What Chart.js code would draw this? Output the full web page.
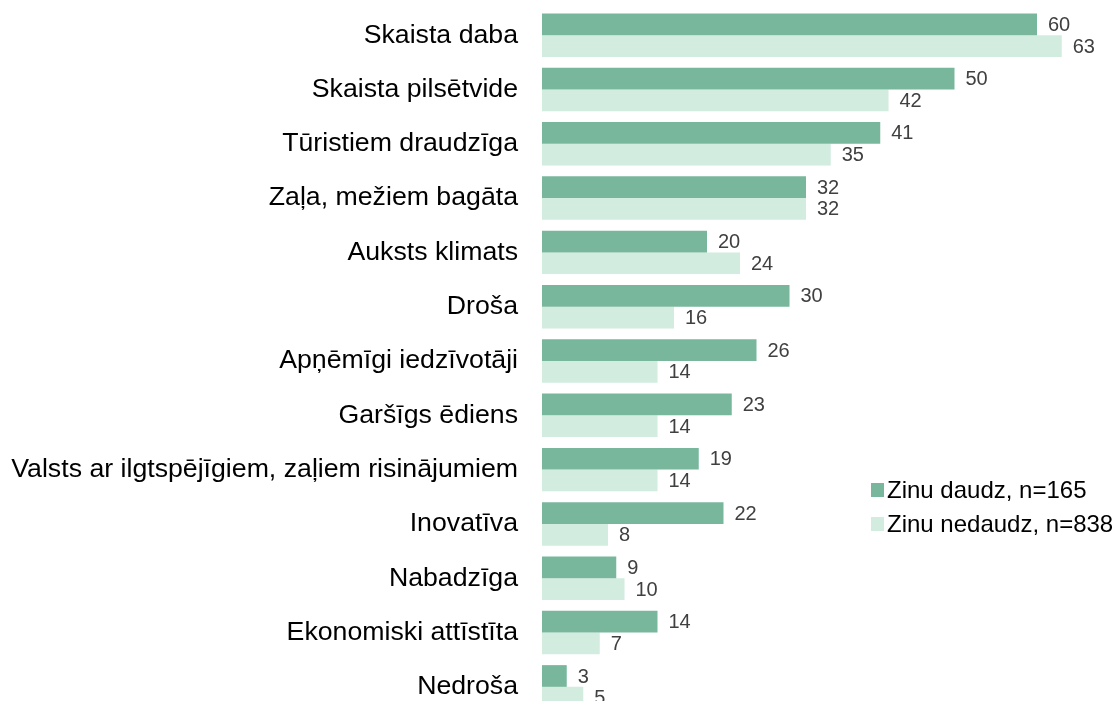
<!DOCTYPE html>
<html>
<head>
<meta charset="utf-8">
<script src="https://cdn.jsdelivr.net/npm/chart.js@4"></script>
<style>
  html, body { margin: 0; padding: 0; background: #fff; overflow: hidden; }
  #wrap { width: 1115px; height: 714px; position: relative; }
</style>
</head>
<body>
<div id="wrap"><canvas id="chart"></canvas></div>
<script>
const categories = [
  'Skaista daba', 'Skaista pilsētvide', 'Tūristiem draudzīga', 'Zaļa, mežiem bagāta',
  'Auksts klimats', 'Droša', 'Apņēmīgi iedzīvotāji', 'Garšīgs ēdiens',
  'Valsts ar ilgtspējīgiem, zaļiem risinājumiem', 'Inovatīva', 'Nabadzīga',
  'Ekonomiski attīstīta', 'Nedroša'
];
const seriesNames = ['Zinu daudz, n=165', 'Zinu nedaudz, n=838'];
const knowMuch = [60, 50, 41, 32, 20, 30, 26, 23, 19, 22, 9, 14, 3];
const knowLittle = [63, 42, 35, 32, 24, 16, 14, 14, 14, 8, 10, 7, 5];
const colors = ['#79b79d', '#d2ece0'];

const FONT = '"Liberation Sans", Arial, sans-serif';

// numbers next to each bar
const valueLabels = {
  id: 'valueLabels',
  afterDatasetsDraw(chart) {
    const ctx = chart.ctx;
    ctx.save();
    ctx.font = '20px ' + FONT;
    ctx.fillStyle = '#404040';
    ctx.textAlign = 'left';
    ctx.textBaseline = 'middle';
    chart.data.datasets.forEach((ds, i) => {
      chart.getDatasetMeta(i).data.forEach((el, j) => {
        ctx.fillText(String(ds.data[j]), el.x + 11, el.y + 1);
      });
    });
    ctx.restore();
  }
};

// legend sits inside the plot, lower right
const sideLegend = {
  id: 'sideLegend',
  afterDraw(chart) {
    const ctx = chart.ctx;
    ctx.save();
    ctx.font = '24px ' + FONT;
    ctx.textBaseline = 'middle';
    ctx.textAlign = 'left';
    chart.data.datasets.forEach((ds, i) => {
      const y = 490 + i * 34;
      ctx.fillStyle = ds.backgroundColor;
      ctx.fillRect(871, y - 7, 13, 14);
      ctx.fillStyle = '#000';
      ctx.fillText(ds.label, 887, y + 1);
    });
    ctx.restore();
  }
};

new Chart(document.getElementById('chart'), {
  type: 'bar',
  data: {
    labels: categories,
    datasets: [
      { label: seriesNames[0], data: knowMuch, backgroundColor: colors[0] },
      { label: seriesNames[1], data: knowLittle, backgroundColor: colors[1] }
    ]
  },
  options: {
    indexAxis: 'y',
    responsive: true,
    maintainAspectRatio: false,
    animation: false,
    datasets: { bar: { categoryPercentage: 0.8, barPercentage: 1 } },
    layout: { padding: { top: 8, right: 45, bottom: 0, left: 0 } },
    scales: {
      x: { display: false, min: 0, max: 64 },
      y: {
        grid: { display: false, drawTicks: false },
        border: { display: false },
        ticks: { color: '#000', font: { family: FONT, size: 26.7 }, padding: 24, autoSkip: false },
        afterFit(scale) {
          scale.width = 542;
          scale.paddingTop = 0;
          scale.paddingBottom = 0;
        }
      }
    },
    plugins: {
      legend: { display: false },
      tooltip: { enabled: false }
    }
  },
  plugins: [valueLabels, sideLegend]
});
</script>
</body>
</html>
